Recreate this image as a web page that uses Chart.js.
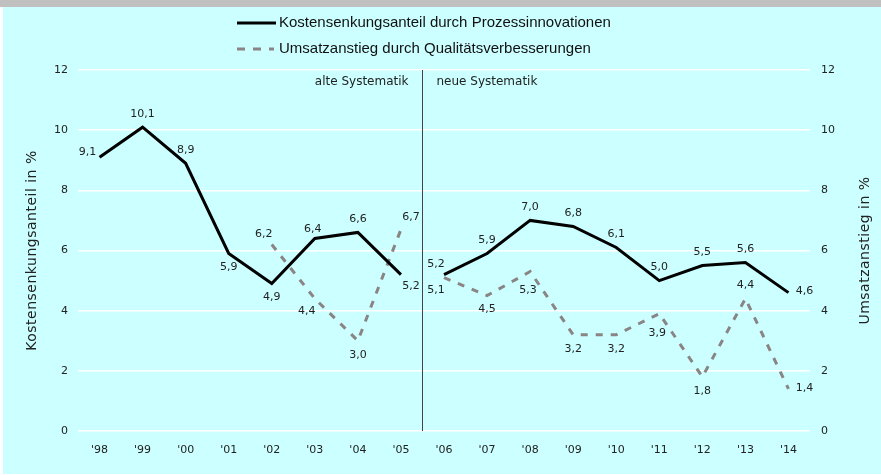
<!DOCTYPE html>
<html>
<head>
<meta charset="utf-8">
<script src="https://cdn.jsdelivr.net/npm/chart.js@4.4.0/dist/chart.umd.min.js"></script>
<style>
  html, body { margin: 0; padding: 0; background: #fff; }
  #wrap { width: 881px; height: 475px; }
</style>
</head>
<body>
<div id="wrap"><canvas id="grafico" width="881" height="475"></canvas></div>
<script>
const jahre = ["'98", "'99", "'00", "'01", "'02", "'03", "'04", "'05", "'06", "'07", "'08", "'09", "'10", "'11", "'12", "'13", "'14"];
const kostensenkung = [9.1, 10.1, 8.9, 5.9, 4.9, 6.4, 6.6, 5.2, 5.2, 5.9, 7.0, 6.8, 6.1, 5.0, 5.5, 5.6, 4.6];
const umsatzanstieg = [null, null, null, null, 6.2, 4.4, 3.0, 6.7, 5.1, 4.5, 5.3, 3.2, 3.2, 3.9, 1.8, 4.4, 1.4];
const achsenTicks = [0, 2, 4, 6, 8, 10, 12];
const bruchIndex = 7; // letzter Punkt der alten Systematik

// wo die Werte-Beschriftung am Punkt sitzt
const lagenKosten = ['w', 'n', 'n', 's', 's', 'nn', 'n', 'se', 'nw', 'n', 'n', 'n', 'n', 'n', 'n', 'n', 'e'];
const lagenUmsatz = [null, null, null, null, 'nw', 'sw', 's', 'ne', 'sw', 's', 'ss', 's', 's', 'ss', 's', 'n', 'e'];

const versatz = {
  n: [0, -13], nn: [-2, -9], s: [0, 14], ss: [-2, 19], e: [16, -1], w: [-12, -5],
  ne: [10, -12], nw: [-8, -10], se: [10, 12], sw: [-8, 13]
};

const textFarbe = '#222';
const tickFont = { family: 'DejaVu Sans', size: 11 };

const formatWert = v => v.toFixed(1).replace('.', ',');
const bruch = ctx => ctx.p0DataIndex === bruchIndex ? 'rgba(0,0,0,0)' : undefined;

const hintergrund = {
  id: 'hintergrund',
  beforeDraw(chart) {
    const c = chart.ctx;
    c.save();
    c.fillStyle = '#ffffff';
    c.fillRect(0, 0, chart.width, chart.height);
    c.fillStyle = '#c0c0c0';
    c.fillRect(0, 0, chart.width, 7);
    c.fillStyle = '#ccffff';
    c.fillRect(3, 7, chart.width - 3, chart.height - 8);
    c.restore();
  },
  beforeDatasetsDraw(chart) {
    const c = chart.ctx;
    const x = chart.scales.x;
    const area = chart.chartArea;
    const trennX = Math.round((x.getPixelForValue(bruchIndex) + x.getPixelForValue(bruchIndex + 1)) / 2) + 0.5;
    c.save();
    c.strokeStyle = '#444';
    c.lineWidth = 1;
    c.beginPath();
    c.moveTo(trennX, area.top);
    c.lineTo(trennX, area.bottom);
    c.stroke();
    c.fillStyle = textFarbe;
    c.font = '12px "DejaVu Sans"';
    c.textBaseline = 'middle';
    c.textAlign = 'right';
    c.fillText('alte Systematik', trennX - 14, area.top + 12);
    c.textAlign = 'left';
    c.fillText('neue Systematik', trennX + 14, area.top + 12);
    c.restore();
  }
};

const werteLabels = {
  id: 'werteLabels',
  afterDatasetsDraw(chart) {
    const c = chart.ctx;
    const lagen = [lagenKosten, lagenUmsatz];
    c.save();
    c.font = '11px "DejaVu Sans"';
    c.fillStyle = textFarbe;
    c.textAlign = 'center';
    c.textBaseline = 'middle';
    chart.data.datasets.forEach((ds, i) => {
      const meta = chart.getDatasetMeta(i);
      ds.data.forEach((v, j) => {
        if (v === null) return;
        const p = meta.data[j];
        const [dx, dy] = versatz[lagen[i][j]];
        c.fillText(formatWert(v), p.x + dx, p.y + dy);
      });
    });
    c.restore();
  }
};

const legendeUndTitel = {
  id: 'legendeUndTitel',
  afterDraw(chart) {
    const c = chart.ctx;
    const area = chart.chartArea;
    const ds = chart.data.datasets;
    c.save();
    // Legende
    c.font = '15px "Liberation Sans"';
    c.fillStyle = '#111';
    c.textBaseline = 'middle';
    c.textAlign = 'left';
    c.strokeStyle = '#000';
    c.lineWidth = 3;
    c.beginPath(); c.moveTo(237, 23); c.lineTo(276, 23); c.stroke();
    c.fillText(ds[0].label, 279, 23);
    c.strokeStyle = ds[1].borderColor;
    c.setLineDash([8, 8]);
    c.beginPath(); c.moveTo(237, 49); c.lineTo(274, 49); c.stroke();
    c.setLineDash([]);
    c.fillText(ds[1].label, 279, 49);

    // Achsentitel
    c.font = '14px "DejaVu Sans"';
    c.letterSpacing = '0.5px';
    c.fillStyle = textFarbe;
    c.textAlign = 'center';
    const mitte = (area.top + area.bottom) / 2;
    c.save();
    c.translate(32, mitte);
    c.rotate(-Math.PI / 2);
    c.fillText('Kostensenkungsanteil in %', 0, 0);
    c.restore();
    c.save();
    c.translate(865, mitte);
    c.rotate(-Math.PI / 2);
    c.fillText('Umsatzanstieg in %', 0, 0);
    c.restore();
    c.restore();
  }
};

const yAchse = (position, breite, gitter) => ({
  type: 'linear',
  position,
  min: 0,
  max: 12,
  afterBuildTicks: s => { s.ticks = achsenTicks.map(v => ({ value: v })); },
  afterFit: s => { s.width = breite; },
  border: { display: false },
  grid: { display: gitter, color: '#ffffff', lineWidth: 1.5, drawTicks: false },
  ticks: { color: textFarbe, font: tickFont, padding: position === 'left' ? 10 : 11 }
});

new Chart(document.getElementById('grafico'), {
  type: 'line',
  data: {
    labels: jahre,
    datasets: [
      {
        label: 'Kostensenkungsanteil durch Prozessinnovationen',
        data: kostensenkung,
        yAxisID: 'y',
        borderColor: '#000000',
        borderWidth: 3,
        borderJoinStyle: 'miter',
        pointRadius: 0,
        tension: 0,
        segment: { borderColor: bruch }
      },
      {
        label: 'Umsatzanstieg durch Qualitätsverbesserungen',
        data: umsatzanstieg,
        yAxisID: 'y2',
        borderColor: '#8a8484',
        borderWidth: 3,
        borderDash: [7, 8],
        pointRadius: 0,
        tension: 0,
        segment: { borderColor: bruch }
      }
    ]
  },
  options: {
    responsive: false,
    animation: false,
    devicePixelRatio: 1,
    layout: { padding: { top: 70, left: 0, right: 0, bottom: 0 } },
    plugins: {
      legend: { display: false },
      tooltip: { enabled: false }
    },
    scales: {
      x: {
        offset: true,
        afterFit: s => { s.height = 44; },
        border: { display: false },
        grid: { display: false, drawTicks: false },
        ticks: { color: textFarbe, font: tickFont, padding: 13, maxRotation: 0, autoSkip: false }
      },
      y: yAchse('left', 78, true),
      y2: yAchse('right', 71, false)
    }
  },
  plugins: [hintergrund, werteLabels, legendeUndTitel]
});
</script>
</body>
</html>
